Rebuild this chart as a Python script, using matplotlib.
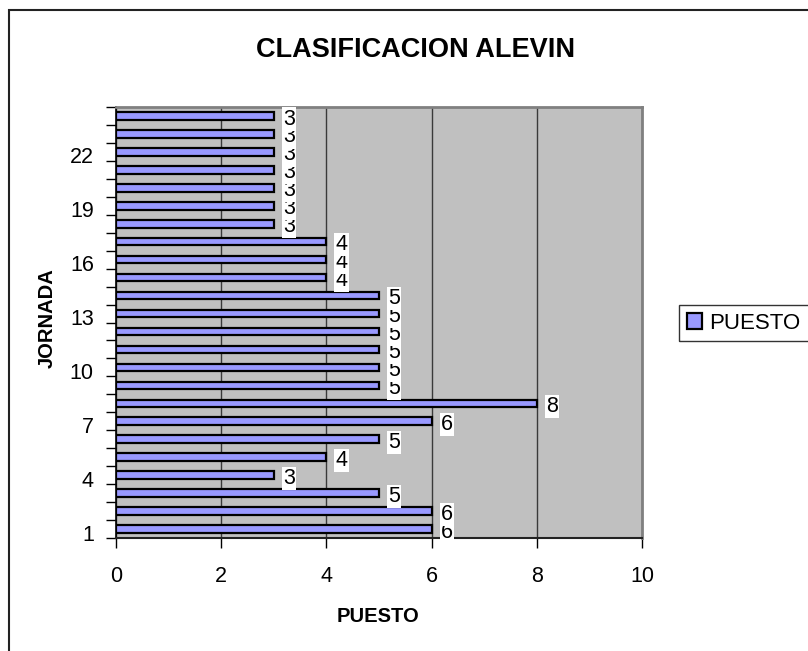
import matplotlib
matplotlib.use("Agg")
import matplotlib.pyplot as plt
from matplotlib.patches import Patch, Rectangle
from matplotlib.ticker import FixedLocator, NullFormatter

plt.rcParams['font.family'] = ['Liberation Sans', 'DejaVu Sans']

# ---- data ----
jornadas = list(range(1, 25))
puesto = [6, 6, 5, 3, 4, 5, 6, 8, 5, 5, 5, 5, 5, 5, 4, 4, 4, 3, 3, 3, 3, 3, 3, 3]
ytick_labels = [1, 4, 7, 10, 13, 16, 19, 22]
xticks = [0, 2, 4, 6, 8, 10]
title = "CLASIFICACION ALEVIN"
xlabel = "PUESTO"
ylabel = "JORNADA"
series_name = "PUESTO"

W, H = 808, 651
fig = plt.figure(figsize=(W / 100, H / 100), dpi=100)
fig.patch.set_facecolor('white')

L, R, T, B = 116, 642, 107, 538
ax = fig.add_axes([L / W, 1 - B / H, (R - L) / W, (B - T) / H])
ax.set_facecolor('#C0C0C0')

ax.barh(jornadas, puesto, height=0.42, color='#9999FF', edgecolor='black',
        linewidth=1.6, zorder=3)

ax.set_xlim(0, 10)
ax.set_ylim(0.5, 24.5)

# gridlines
ax.set_xticks(xticks)
ax.xaxis.grid(True, color='#3a3a3a', linewidth=1.0, zorder=1)
ax.set_axisbelow(True)
ax.tick_params(axis='x', direction='out', length=7, width=1, pad=13,
               labelsize=15.5, colors='black')

# y ticks: marks at category boundaries, labels every 3 categories
ax.yaxis.set_minor_locator(FixedLocator([j + 0.5 for j in [0] + jornadas]))
ax.yaxis.set_minor_formatter(NullFormatter())
ax.set_yticks([v - 0.2 for v in ytick_labels])
ax.set_yticklabels([str(v) for v in ytick_labels])
ax.tick_params(axis='y', which='major', length=0, pad=16, labelsize=15.5)
ax.tick_params(axis='y', which='minor', direction='out', length=7, width=1)

for side in ('top', 'right'):
    ax.spines[side].set_color('#808080')
    ax.spines[side].set_linewidth(2)
ax.spines['left'].set_color('black')
ax.spines['left'].set_linewidth(1.2)
ax.spines['bottom'].set_color('#222222')
ax.spines['bottom'].set_linewidth(1.5)

# data labels
for j, v in zip(jornadas, puesto):
    ax.annotate(str(v), xy=(v, j), xytext=(6.5, -2.2), textcoords='offset points',
                ha='left', va='center', fontsize=15.5, zorder=5,
                bbox=dict(facecolor='white', edgecolor='none', pad=0.8))

# titles
fig.text(416 / W, 1 - 50 / H, title, ha='center', va='center',
         fontsize=19.5, fontweight='bold')
fig.text(378 / W, 1 - 617 / H, xlabel, ha='center', va='center',
         fontsize=14.5, fontweight='bold')
fig.text(47 / W, 1 - 318 / H, ylabel, ha='center', va='center',
         fontsize=14.5, fontweight='bold', rotation=90)

# legend (frame drawn separately so it runs off the right edge like the reference)
handle = Patch(facecolor='#9999FF', edgecolor='black', linewidth=1.6, label=series_name)
leg = fig.legend(handles=[handle], loc='upper left',
                 bbox_to_anchor=(680 / W, 1 - 306 / H), fontsize=16,
                 frameon=False, borderpad=0.3, borderaxespad=0,
                 handlelength=0.7, handleheight=0.7, handletextpad=0.3)
fig.patches.append(Rectangle((679 / W, 1 - 341 / H), 150 / W, 36 / H,
                             transform=fig.transFigure, fill=False,
                             edgecolor='#333333', linewidth=1.0))

# outer chart frame (extends beyond the right and bottom edges)
fig.patches.append(Rectangle((9 / W, -0.2), 1.5, (H - 10) / H + 0.2,
                             transform=fig.transFigure, fill=False,
                             edgecolor='#222222', linewidth=1.5))

fig.savefig('out.png', dpi=100)
